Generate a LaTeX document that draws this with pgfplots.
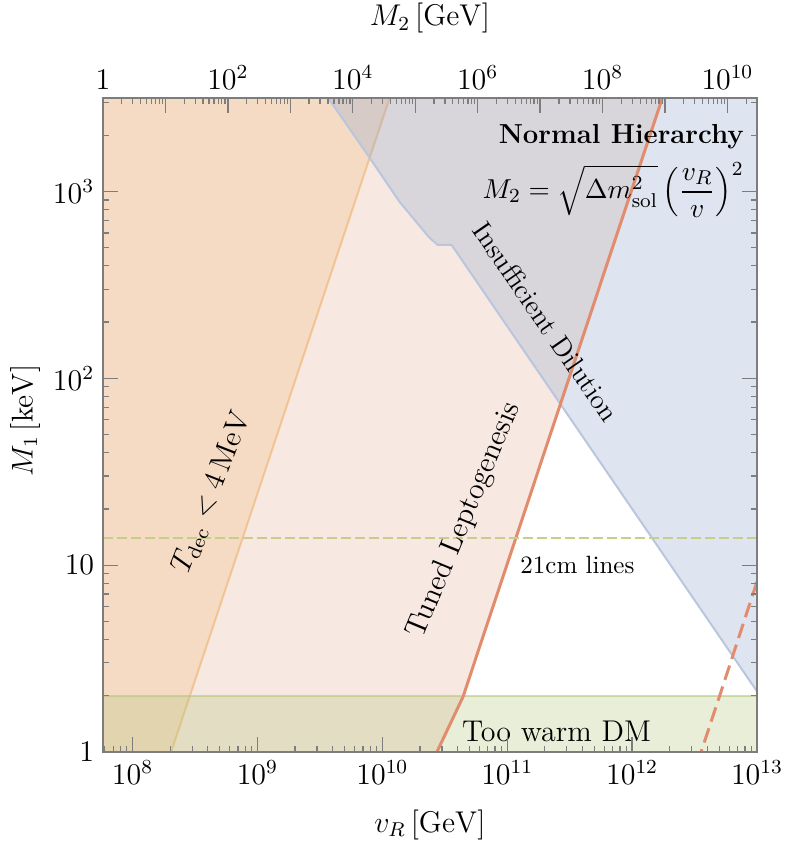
\documentclass[border=0pt]{standalone}
\usepackage{amsmath}
\usepackage{pgfplots}
\pgfplotsset{compat=1.18}

\definecolor{framegray}{RGB}{125,125,125}
\definecolor{pinkfill}{RGB}{247,233,226}
\definecolor{orangefill}{RGB}{245,219,196}
\definecolor{orangeline}{RGB}{240,196,148}
\definecolor{bluefill}{RGB}{145,168,205}
\definecolor{blueline}{RGB}{185,198,222}
\definecolor{greenfill}{RGB}{182,198,125}
\definecolor{greenline}{RGB}{198,206,138}
\definecolor{leptoline}{RGB}{226,140,110}

\newcommand{\ticksize}{\fontsize{12}{14}\selectfont}

\begin{document}
\begin{tikzpicture}
\begin{axis}[
  name=main,
  scale only axis, width=261.6pt, height=261.6pt,
  xmode=log, ymode=log,
  xmin=5.8e7, xmax=1e13, ymin=1, ymax=3162.3,
  axis on top,
  axis line style={framegray, line width=0.5pt},
  tick align=inside,
  major tick length=6pt, minor tick length=2.4pt,
  every tick/.append style={framegray, line width=0.5pt},
  xtick pos=lower, ytick pos=both, yticklabel pos=left,
  xtick={1e8,1e9,1e10,1e11,1e12,1e13},
  xticklabels={$10^{8}$,$10^{9}$,$10^{10}$,$10^{11}$,$10^{12}$,$10^{13}$},
  minor xtick={6e7,7e7,8e7,9e7,
    2e8,3e8,4e8,5e8,6e8,7e8,8e8,9e8,
    2e9,3e9,4e9,5e9,6e9,7e9,8e9,9e9,
    2e10,3e10,4e10,5e10,6e10,7e10,8e10,9e10,
    2e11,3e11,4e11,5e11,6e11,7e11,8e11,9e11,
    2e12,3e12,4e12,5e12,6e12,7e12,8e12,9e12},
  ytick={1,10,100,1000},
  yticklabels={$1$,$10$,$10^{2}$,$10^{3}$},
  minor ytick={2,3,4,5,6,7,8,9,20,30,40,50,60,70,80,90,
    200,300,400,500,600,700,800,900,2000,3000},
  tick label style={font=\ticksize, black},
  xlabel={$v_R\,[\mathrm{GeV}]$}, ylabel={$M_1\,[\mathrm{keV}]$},
  label style={font=\ticksize},
  xlabel style={at={(axis description cs:0.5,-0.1116)}, anchor=center},
  ylabel style={at={(axis description cs:-0.119,0.507)}, anchor=center},
]
% Tuned leptogenesis excluded (left of solid line)
\addplot[draw=none, fill=pinkfill] coordinates {
  (5e7,0.9) (2.54e10,0.9) (2.735e10,1) (4.42e10,1.97) (1.746e12,3162) (1.837e12,3500) (5e7,3500)} -- cycle;
% T_dec < 4 MeV
\addplot[draw=none, fill=orangefill] coordinates {
  (5e7,0.9) (1.93e8,0.9) (1.202e10,3500) (5e7,3500)} -- cycle;
\addplot[orangeline, line width=0.8pt] coordinates {(1.93e8,0.9) (1.202e10,3500)};
% too warm DM
\addplot[draw=none, fill=greenfill, fill opacity=0.3] coordinates {
  (5e7,0.9) (1.2e13,0.9) (1.2e13,2) (5e7,2)} -- cycle;
\addplot[greenfill, opacity=0.6, line width=1pt] coordinates {(5e7,2) (1.2e13,2)};
% insufficient dilution
\addplot[draw=none, fill=bluefill, fill opacity=0.3] coordinates {
  (3.45e9,3376) (7.91e9,1514) (1.375e10,879) (2.39e10,564) (2.77e10,518)
  (3.58e10,518) (9.86e12,2.14) (1.143e13,1.85)
  (1.143e13,3500) (3.45e9,3500)} -- cycle;
\addplot[blueline, line width=0.8pt] coordinates {
  (3.45e9,3376) (7.91e9,1514) (1.375e10,879) (2.39e10,564) (2.77e10,518)
  (3.58e10,518) (9.86e12,2.14) (1.143e13,1.85)};
% leptogenesis lines
\addplot[leptoline, line width=1.2pt] coordinates {
  (2.54e10,0.9) (2.735e10,1) (4.42e10,1.97) (1.746e12,3162) (1.837e12,3500)};
\addplot[leptoline, line width=1.2pt, dash pattern=on 6pt off 2.8pt] coordinates {
  (3.31e12,0.87) (3.565e12,1) (4.99e12,1.97) (9.5e12,7.35) (1.1e13,9.9)};
% 21cm
\addplot[greenline, line width=0.8pt, dash pattern=on 4pt off 1.6pt] coordinates {
  (5.8e7,13.95) (1e13,13.95)};

\node[anchor=east, inner sep=0pt, font=\fontsize{11}{13}\selectfont\bfseries] at (axis cs:7.9e12,1960) {Normal Hierarchy};
\node[anchor=east, inner sep=0pt, font=\fontsize{11}{13}\selectfont] at (axis cs:7.9e12,1018)
  {$M_2=\sqrt{\Delta m^2_{\mathrm{sol}}}\left(\dfrac{v_R}{v}\right)^{2}$};
\node[rotate=-55.4, font=\fontsize{11}{13}\selectfont] at (axis cs:2.05e11,200) {Insufficient Dilution};
\node[rotate=67.4, font=\ticksize] at (axis cs:4.55e10,17.4) {Tuned Leptogenesis};
\node[rotate=68.5, font=\ticksize] at (axis cs:4.3e8,24.6) {$T_{\mathrm{dec}}<4\,\mathrm{MeV}$};
\node[font=\normalsize] at (axis cs:3.65e11,10) {21cm lines};
\node[font=\ticksize] at (axis cs:2.48e11,1.29) {Too warm DM};

\coordinate (sw) at (rel axis cs:0,0);
\coordinate (ne) at (rel axis cs:1,1);
\end{axis}

\begin{axis}[
  scale only axis, width=261.6pt, height=261.6pt,
  xmode=log, xmin=1, xmax=2.973e10, ymin=0, ymax=1,
  axis x line*=top, hide y axis,
  axis line style={-, framegray, line width=0.5pt},
  tick align=inside,
  major tick length=6pt, minor tick length=2.4pt,
  every tick/.append style={framegray, line width=0.5pt},
  xtick={1,10,100,1e3,1e4,1e5,1e6,1e7,1e8,1e9,1e10},
  xticklabels={$1$,,$10^{2}$,,$10^{4}$,,$10^{6}$,,$10^{8}$,,$10^{10}$},
  minor xtick={2,3,4,5,6,7,8,9,20,30,40,50,60,70,80,90,
    200,300,400,500,600,700,800,900,2000,3000,4000,5000,6000,7000,8000,9000,
    2e4,3e4,4e4,5e4,6e4,7e4,8e4,9e4,
    2e5,3e5,4e5,5e5,6e5,7e5,8e5,9e5,
    2e6,3e6,4e6,5e6,6e6,7e6,8e6,9e6,
    2e7,3e7,4e7,5e7,6e7,7e7,8e7,9e7,
    2e8,3e8,4e8,5e8,6e8,7e8,8e8,9e8,
    2e9,3e9,4e9,5e9,6e9,7e9,8e9,9e9,
    2e10},
  tick label style={font=\ticksize, black},
  xlabel={$M_2\,[\mathrm{GeV}]$},
  label style={font=\ticksize},
  xlabel style={at={(axis description cs:0.5,1.122)}, anchor=center},
]
\end{axis}

\pgfresetboundingbox
\path ([xshift=-41.2pt, yshift=-40pt]sw) rectangle ([xshift=12.8pt, yshift=39.2pt]ne);
\end{tikzpicture}
\end{document}
